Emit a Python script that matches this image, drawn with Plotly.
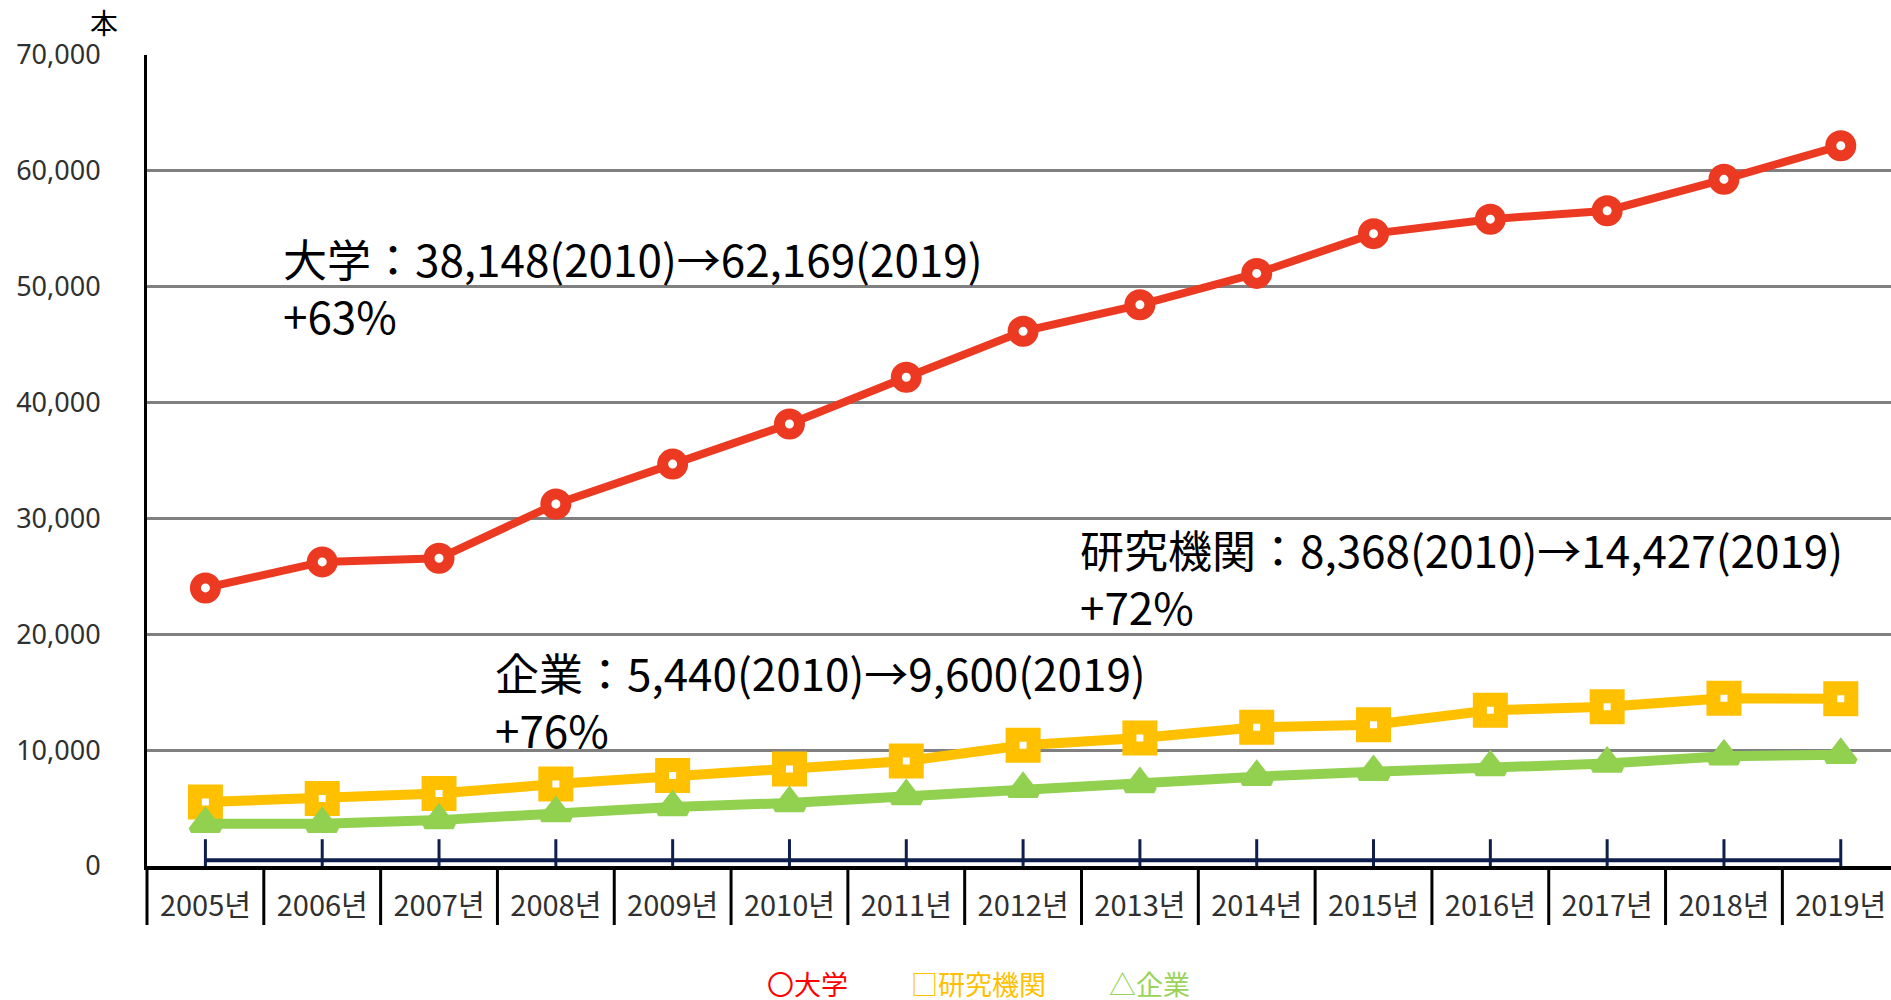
import plotly.graph_objects as go

# Annual counts by sector, 2005-2019
years = ["2005년", "2006년", "2007년", "2008년", "2009년", "2010년", "2011년", "2012년",
         "2013년", "2014년", "2015년", "2016년", "2017년", "2018년", "2019년"]
university = [24000, 26250, 26560, 31250, 34690, 38148, 42190, 46150,
              48440, 51150, 54580, 55830, 56560, 59270, 62169]
institutes = [5520, 5830, 6250, 7080, 7810, 8368, 9060, 10420,
              11040, 11980, 12190, 13440, 13750, 14480, 14427]
companies = [3650, 3650, 3960, 4580, 5100, 5440, 6040, 6670,
             7080, 7710, 8130, 8540, 8850, 9480, 9600]
baseline = [500, 500, 500, 500, 500, 500, 500, 500,
            500, 500, 500, 500, 500, 500, 500]

names = ["大学", "研究機関", "企業"]
legend_marks = ["〇", "□", "△"]
colors = ["#EC3A22", "#FFC000", "#92D050"]
legend_colors = ["#FF0000", "#FFC000", "#9BD35A"]

W, H = 1891, 1000
M_L, M_R, M_T, M_B = 147, 0, 55, 134
X_MIN, X_MAX = -0.5, 14.43
Y_MAX = 70000
plot_h = H - M_T - M_B

fig = go.Figure()

fig.add_trace(go.Scatter(
    x=years, y=baseline, mode="lines+markers", showlegend=False, hoverinfo="skip",
    line=dict(color="#0E1F4D", width=4),
    marker=dict(symbol="line-ns", size=30, line=dict(color="#0E1F4D", width=3)),
))

fig.add_trace(go.Scatter(
    x=years, y=university, name=names[0], mode="lines+markers", showlegend=False,
    line=dict(color=colors[0], width=8),
    marker=dict(symbol="circle", size=20, color="white", line=dict(color=colors[0], width=11)),
))
fig.add_trace(go.Scatter(
    x=years, y=institutes, name=names[1], mode="lines+markers", showlegend=False,
    line=dict(color=colors[1], width=10),
    marker=dict(symbol="square", size=21, color="white", line=dict(color=colors[1], width=14)),
))
fig.add_trace(go.Scatter(
    x=years, y=companies, name=names[2], mode="lines+markers", showlegend=False,
    line=dict(color=colors[2], width=10),
    marker=dict(symbol="triangle-up", size=25, color=colors[2], line=dict(color=colors[2], width=6)),
))

# Category divider lines below the axis
shapes = []
span = X_MAX - X_MIN
for i in range(len(years) + 1):
    xb = i - 0.5
    if xb > X_MAX:
        continue
    shapes.append(dict(
        type="line", xref="paper", yref="paper",
        x0=(xb - X_MIN) / span, x1=(xb - X_MIN) / span,
        y0=0, y1=-59 / plot_h,
        line=dict(color="black", width=3),
    ))

# Growth annotations built from the series values
i10, i19 = years.index("2010년"), years.index("2019년")
label_pos = [(0.65, 50000), (7.47, 24860), (2.46, 14285)]
annotations = []
for name, series, (ax, ay) in zip(names, [university, institutes, companies], label_pos):
    a, b = series[i10], series[i19]
    pct = round((b / a - 1) * 100)
    annotations.append(dict(
        x=ax, y=ay, xref="x", yref="y", xanchor="left", yanchor="middle", align="left",
        showarrow=False,
        text=f"{name}：{a:,}(2010)→{b:,}(2019)<br>+{pct}%",
        font=dict(family="Noto Sans CJK JP", size=44, color="black"),
    ))

# Text legend below the chart
legend_x = [807, 978, 1149]
for mark, name, col, px in zip(legend_marks, names, legend_colors, legend_x):
    annotations.append(dict(
        x=(px - M_L) / (W - M_L - M_R), y=(M_T + plot_h - 983) / plot_h,
        xref="paper", yref="paper", xanchor="center", yanchor="middle", showarrow=False,
        text=mark + name,
        font=dict(family="Noto Sans CJK JP", size=27, color=col),
    ))

# Unit label
annotations.append(dict(
    x=(104 - M_L) / (W - M_L - M_R), y=(M_T + plot_h - 22) / plot_h,
    xref="paper", yref="paper", xanchor="center", yanchor="middle", showarrow=False,
    text="本", font=dict(family="Noto Sans CJK JP", size=28, color="black"),
))

fig.update_layout(
    width=W, height=H,
    margin=dict(l=M_L, r=M_R, t=M_T, b=M_B),
    paper_bgcolor="white", plot_bgcolor="white",
    shapes=shapes, annotations=annotations,
    showlegend=False,
)
fig.update_xaxes(
    type="category", range=[X_MIN, X_MAX],
    showgrid=False, zeroline=False,
    showline=True, linecolor="black", linewidth=4,
    ticks="", ticklabelstandoff=11,
    tickfont=dict(family="Noto Sans CJK KR", size=29, color="#303030"),
)
fig.update_yaxes(
    range=[0, Y_MAX], dtick=10000, tickformat=",",
    showgrid=True, gridcolor="#808080", gridwidth=3,
    zeroline=False,
    showline=True, linecolor="black", linewidth=3,
    ticks="", ticklabelstandoff=38,
    tickfont=dict(family="Noto Sans", size=27, color="#303030"),
)

fig.write_html("out.html")
